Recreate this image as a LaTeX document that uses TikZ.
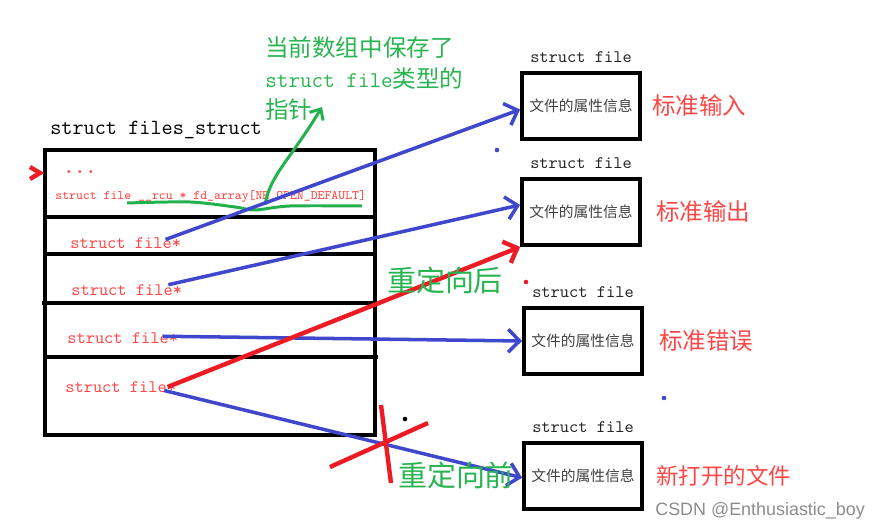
\documentclass[tikz,border=0pt]{standalone}
\usepackage{fontspec}
\newfontfamily\cjk{Noto Sans CJK SC}
\newfontfamily\wmfont{Liberation Sans}
\usetikzlibrary{arrows.meta, positioning}
\definecolor{penred}{RGB}{237,28,36}
\definecolor{penblue}{RGB}{63,72,204}
\definecolor{pengreen}{RGB}{34,177,76}
\definecolor{textred}{RGB}{255,70,70}
\definecolor{textgreen}{RGB}{40,180,80}

\begin{document}
\begin{tikzpicture}[
        x=0.02cm, y=-0.02cm,
        every node/.style = {inner sep=0pt},
        frame/.style = {draw=black, line width=2.3pt},
        filebox/.style = {draw=black, line width=2.2pt, minimum width=2.36cm, minimum height=1.32cm, font=\cjk\fontsize{8.4}{10}\selectfont, text=black!75,
            label={[font=\ttfamily\fontsize{10}{12}\selectfont, text=black!85, label distance=4.5pt]above:struct file}},
        rowtext/.style = {font=\ttfamily\fontsize{10}{12}\selectfont, text=textred, anchor=west},
        role/.style = {font=\cjk\fontsize{13.4}{16}\selectfont, text=textred, right=0.25cm},
        note/.style = {font=\cjk\fontsize{16.5}{20}\selectfont, text=textgreen},
        bluearrow/.style = {draw=penblue, line width=2pt, -{Straight Barb[length=6.5pt, width=13pt]}},
        redarrow/.style = {draw=penred, line width=2.5pt, -{Straight Barb[length=6.5pt, width=13pt]}},
        greenarrow/.style = {draw=pengreen, line width=1.7pt, -{Straight Barb[length=5pt, width=9pt]}},
        redmark/.style = {draw=penred, line width=2.5pt}
    ]
        \useasboundingbox (0,0) rectangle (880,530);

        % === files_struct ===
        \node[anchor=west, font=\ttfamily\fontsize{12.3}{14}\selectfont] (filesTitle) at (50,130) {struct files\_struct};
        \draw[frame] (45,150) rectangle (375,435);
        \draw[frame] (45,217) -- (375,217);
        \draw[frame] (45,254) -- (375,254);
        \draw[frame] (42,303) -- (375,303);
        \draw[frame] (45,357) -- (378,357);

        \node[rowtext, font=\ttfamily\bfseries\fontsize{12}{14}\selectfont] (dots) at (63,172) {...};
        \node[rowtext, font=\ttfamily\fontsize{7.4}{9}\selectfont] (fdArray) at (55,196) {struct file \_\_rcu * fd\_array[NR\_OPEN\_DEFAULT]};
        \node[rowtext] (slot0) at (70,243) {struct file*};
        \node[rowtext] (slot1) at (71,290) {struct file*};
        \node[rowtext] (slot2) at (67,338) {struct file*};
        \node[rowtext] (slot3) at (65,387) {struct file*};

        % === struct file ===
        \node[filebox] (fileIn) at (581,106) {文件的属性信息};
        \node[filebox] (fileOut) at (581,212) {文件的属性信息};
        \node[filebox] (fileErr) at (583,341) {文件的属性信息};
        \node[filebox] (fileNew) at (583,476) {文件的属性信息};

        \node[role] (roleIn) [right=0.2cm of fileIn] {标准输入};
        \node[role] (roleOut) [right=0.28cm of fileOut] {标准输出};
        \node[role] (roleErr) [right=0.3cm of fileErr] {标准错误};
        \node[role, font=\cjk\fontsize{12.8}{16}\selectfont] (roleNew) [right=0.24cm of fileNew] {新打开的文件};

        % === Note ===
        \node[anchor=north west, align=left, text=textgreen, font=\cjk\fontsize{13.4}{17.6}\selectfont] (arrayNote) at (265,36)
            {当前数组中保存了\\{\ttfamily\fontsize{12.8}{17.6}\selectfont struct file}类型的\\指针};
        \coordinate (noteTip) at (322,107);
        \draw[pengreen, line width=1.7pt] plot[smooth] coordinates {(127,203) (190,202) (235,207) (255,210) (290,206) (362,206)};
        \draw[greenarrow] (265,205) .. controls (270,175) and (290,160) .. (noteTip);

        % === Arrows ===
        \draw[bluearrow] ([xshift=-9pt, yshift=2pt]slot0.east) -- ([yshift=-2pt]fileIn.west);
        \draw[bluearrow] ([xshift=-8pt, yshift=3pt]slot1.east) -- ([yshift=4pt]fileOut.west);
        \draw[bluearrow] ([xshift=-9pt, yshift=1pt]slot2.east) -- (fileErr.west);
        \draw[bluearrow] ([xshift=-7pt, yshift=-2pt]slot3.east) -- ([yshift=-1pt]fileNew.west);
        \draw[redarrow] ([xshift=-5pt]slot3.east) -- (fileOut.south west);

        % redirect notes
        \node[note] (afterNote) at (445,280) {重定向后};
        \node[note] (beforeNote) at (456,475) {重定向前};
        \draw[redmark] (330,467) -- (428,423);
        \draw[redmark] (381,405) -- (391,483);
        \draw[redmark] (30,167) -- (40,173) -- (30,179);

        % stray marks
        \fill[penblue] (497,150) circle (1.3pt);
        \fill[penred] (526,282) circle (1.3pt);
        \fill[black] (405,419) circle (1.3pt);
        \fill[penblue] (664,398) circle (1.3pt);

        \node[anchor=west, font=\wmfont\fontsize{10.2}{12}\selectfont, text=black!45] (watermark) at (655,511) {CSDN @Enthusiastic\_boy};
    \end{tikzpicture}
\end{document}
